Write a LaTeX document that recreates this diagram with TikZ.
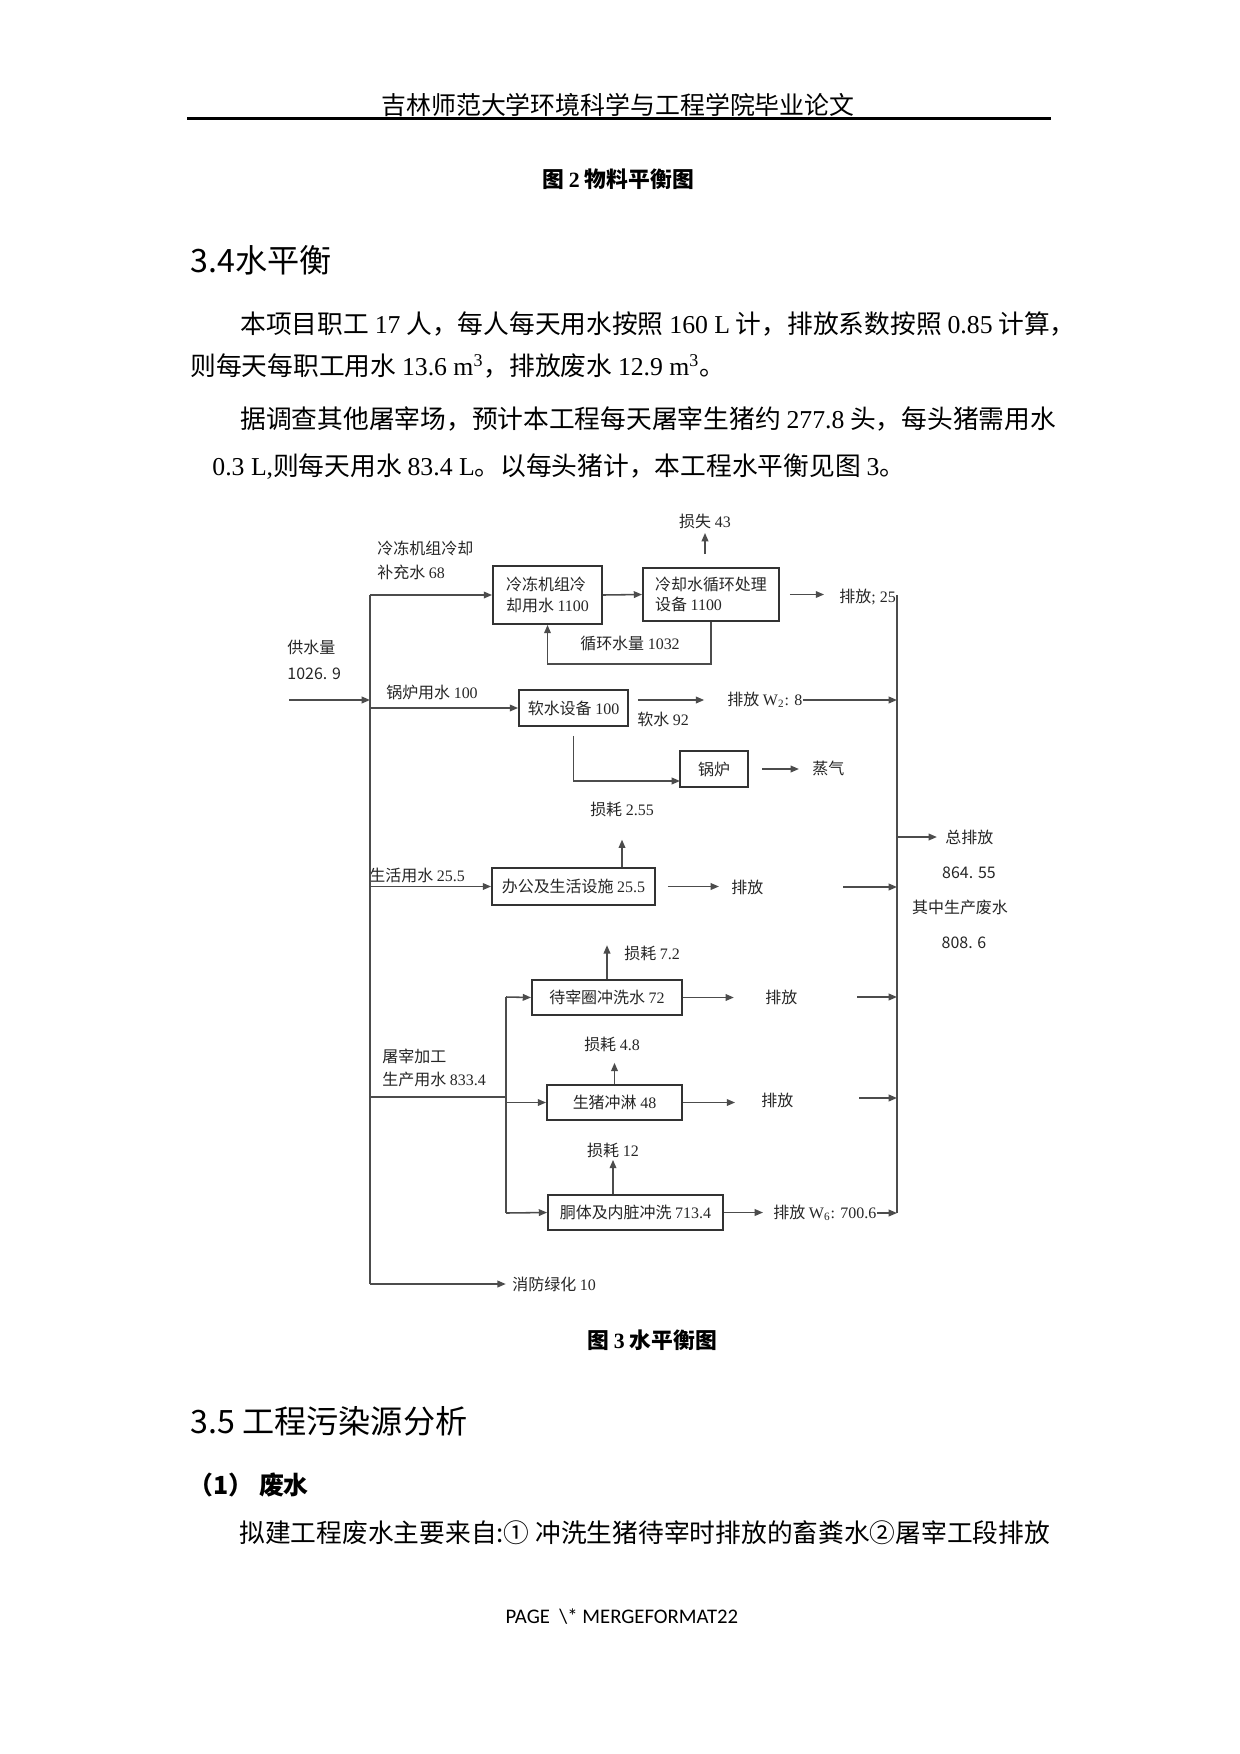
\documentclass[tikz,border=0pt]{standalone}
\usepackage{fontspec}
\setmainfont{Liberation Serif}
\newfontfamily\cjk{Noto Sans CJK SC}
\newfontfamily\pagefont{Carlito}
\usetikzlibrary{arrows.meta}
\newcommand\tm[1]{{\rmfamily #1}}
\newdimen\pxu \pxu=0.4818pt
\tikzset{
  dfont/.style={font=\cjk\fontsize{7.7}{10}\selectfont},
  box/.style={draw=black!80, line width=0.9pt, dfont, text=black!85, inner sep=0pt, align=left},
  lbl/.style={dfont, text=black!85, inner sep=0pt, align=left},
  flow/.style={draw=black!70, line width=0.75pt, -{Triangle[length=4pt,width=3.2pt]}},
  pipe/.style={draw=black!70, line width=0.75pt},
  body/.style={font=\cjk\fontsize{12.4}{14}\selectfont, anchor=west, inner sep=0pt},
  head/.style={font=\cjk\fontsize{15.5}{18}\selectfont, anchor=west, inner sep=0pt},
  capt/.style={font=\cjk\bfseries\fontsize{10.5}{12}\selectfont, inner sep=0pt},
}
\begin{document}
\begin{tikzpicture}[x=0.16935mm, y=-0.16935mm]
    \fill[white] (0,0) rectangle (1240,1754);
    \useasboundingbox (0,0) rectangle (1240,1754);

    \node[font=\cjk\fontsize{12}{14}\selectfont, inner sep=0pt] (hdr) at (618,105) {吉林师范大学环境科学与工程学院毕业论文};
    \draw[line width=1.1pt] (187,118.5) -- (1051,118.5);
    \node[capt] (cap2) at (618,179) {图 \tm{2} 物料平衡图};
    \node[head] (sec34) at (190,260) {3.4水平衡};
    \node[body] (p1) at (240,324) {本项目职工 \tm{17} 人，每人每天用水按照 \tm{160 L} 计，排放系数按照 \tm{0.85} 计算，};
    \node[body] (p2) at (190,366) {则每天每职工用水 \tm{13.6 m\textsuperscript{3}}，排放废水 \tm{12.9 m\textsuperscript{3}}。};
    \node[body] (p3) at (240,419) {据调查其他屠宰场，预计本工程每天屠宰生猪约 \tm{277.8} 头，每头猪需用水};
    \node[body] (p4) at (212,467) {\tm{0.3 L,}则每天用水 \tm{83.4 L}。以每头猪计，本工程水平衡见图 \tm{3}。};

    \node[box, minimum width=109\pxu, minimum height=58\pxu] (cool) at (547.5,595) {冷冻机组冷\\却用水 \tm{1100}};
    \node[box, minimum width=136\pxu, minimum height=53\pxu] (ctw) at (711,594.5) {冷却水循环处理\\设备 \tm{1100}};
    \node[box, minimum width=109\pxu, minimum height=36\pxu] (soft) at (573.5,708) {软水设备 \tm{100}};
    \node[box, minimum width=68\pxu, minimum height=36\pxu] (boiler) at (714,769) {锅炉};
    \node[box, minimum width=163\pxu, minimum height=37\pxu] (office) at (573.5,886.5) {办公及生活设施 \tm{25.5}};
    \node[box, minimum width=150\pxu, minimum height=35\pxu] (pen) at (607,997.5) {待宰圈冲洗水 \tm{72}};
    \node[box, minimum width=135\pxu, minimum height=35\pxu] (shower) at (614.5,1102.5) {生猪冲淋 \tm{48}};
    \node[box, minimum width=175\pxu, minimum height=35\pxu] (carcass) at (635.5,1212.5) {胴体及内脏冲洗 \tm{713.4}};

    \node[lbl] (loss43) at (705,521) {损失 \tm{43}};
    \node[lbl, anchor=west] (coolmk) at (377,560) {冷冻机组冷却\\[1.5pt]补充水 \tm{68}};
    \node[lbl, anchor=west] (out25) at (839,597) {排放\tm{; 25}};
    \node[lbl] (recirc) at (630,643) {循环水量 \tm{1032}};
    \node[lbl, anchor=west] (supply) at (287,660) {供水量\\[2.5pt]1026. 9};
    \node[lbl] (boilw) at (432,692) {锅炉用水 \tm{100}};
    \node[lbl, anchor=west] (w2) at (727,700) {排放 \tm{W\textsubscript{2}: 8}};
    \node[lbl, anchor=west] (soft92) at (637,719) {软水 \tm{92}};
    \node[lbl, anchor=west] (steam) at (812,768) {蒸气};
    \node[lbl] (loss255) at (622,809) {损耗 \tm{2.55}};
    \node[lbl, anchor=west] (livew) at (369,875) {生活用水 \tm{25.5}};
    \node[lbl, anchor=west] (out3) at (731,887) {排放};
    \node[lbl, anchor=west] (total) at (945,837) {总排放};
    \node[lbl] (tot1) at (969,873) {864. 55};
    \node[lbl] (tot2) at (960,907) {其中生产废水};
    \node[lbl] (tot3) at (964,943) {808. 6};
    \node[lbl, anchor=west] (loss72) at (624,953) {损耗 \tm{7.2}};
    \node[lbl, anchor=west] (out4) at (765,997) {排放};
    \node[lbl] (loss48) at (612,1044) {损耗 \tm{4.8}};
    \node[lbl, anchor=west] (prod) at (382,1068) {屠宰加工\\[1pt]生产用水 \tm{833.4}};
    \node[lbl, anchor=west] (out5) at (761,1100) {排放};
    \node[lbl] (loss12) at (613,1150) {损耗 \tm{12}};
    \node[lbl, anchor=west] (w6) at (773,1213) {排放 \tm{W\textsubscript{6}: 700.6}};
    \node[lbl, anchor=west] (fire) at (512,1284) {消防绿化 \tm{10}};

    \coordinate (src) at (289,700);
    \coordinate (ltop) at (370,595);
    \coordinate (lbot) at (370,1284);
    \coordinate (rbt) at (897,595);
    \coordinate (rbot) at (897,1213);
    \coordinate (rc) at (630,664);
    \coordinate (bin) at (680,781);
    \coordinate (r3) at (843,887);
    \coordinate (pj) at (506,1097);
    \coordinate (stop) at (506,997);
    \coordinate (sbot) at (506,1213);
    \coordinate (r4) at (857,997);
    \coordinate (r5) at (859,1098);

    \draw[pipe] (ltop) -- (lbot);
    \draw[pipe] (rbt) -- (rbot);
    \draw[flow] (src) -- (src -| ltop);
    \draw[flow] (ltop) -- (cool.west);
    \draw[flow] (cool.east) -- (ctw.west);
    \draw[flow, shorten <=6.3pt, shorten >=2pt] (loss43.south |- ctw.north) -- (loss43.south);
    \draw[flow, shorten <=4.8pt, shorten >=7.2pt] (ctw.east) -- (ctw.east -| out25.west);
    \draw[flow] (ctw.south) |- (rc) -| (cool.south);

    \draw[flow] (ltop |- soft.west) -- (soft.west);
    \draw[flow, shorten <=4.3pt, shorten >=11pt] (soft.east |- w2.west) -- (w2.west);
    \draw[flow] (w2.east) -- (w2.east -| rbt);
    \draw[flow, shorten <=4.3pt] (soft.south) |- (bin);
    \draw[flow, shorten <=6.3pt, shorten >=6.3pt] (boiler.east) -- (boiler.east -| steam.west);

    \draw[flow, shorten >=11pt] (loss255.south |- office.north) -- (loss255.south);
    \draw[flow] (ltop |- office.west) -- (office.west);
    \draw[flow, shorten <=5.8pt, shorten >=5.8pt] (office.east) -- (office.east -| out3.west);
    \draw[flow] (r3) -- (r3 -| rbt);
    \draw[flow, shorten >=3.9pt] (total.west -| rbt) -- (total.west);

    \draw[pipe] (pj -| ltop) -- (pj);
    \draw[pipe] (stop) -- (sbot);
    \draw[flow] (stop) -- (pen.west);
    \draw[flow] (stop |- shower.west) -- (shower.west);
    \draw[flow] (sbot) -- (carcass.west);
    \draw[flow] (pen.north) -- (pen.north |- loss72.north);
    \draw[flow, shorten >=5.3pt] (shower.north) -- (shower.north |- loss48.south);
    \draw[flow, shorten >=1pt] (loss12.south |- carcass.north) -- (loss12.south);
    \draw[flow, shorten >=15pt] (pen.east) -- (pen.east -| out4.west);
    \draw[flow] (r4) -- (r4 -| rbt);
    \draw[flow, shorten >=12.5pt] (shower.east) -- (shower.east -| out5.west);
    \draw[flow] (r5) -- (r5 -| rbt);
    \draw[flow, shorten >=4.8pt] (carcass.east) -- (carcass.east -| w6.west);
    \draw[flow] (w6.east) -- (w6.east -| rbt);
    \draw[flow, shorten >=3pt] (lbot) -- (fire.west);

    \node[capt] (cap3) at (652,1340) {图 \tm{3} 水平衡图};
    \node[head] (sec35) at (190,1421) {3.5 工程污染源分析};
    \node[body, font=\cjk\bfseries\fontsize{12}{14}\selectfont] (ww) at (188,1485) {（1） 废水};
    \node[body] (p5) at (239,1533) {拟建工程废水主要来自:① 冲洗生猪待宰时排放的畜粪水②屠宰工段排放};
    \node[font=\pagefont\fontsize{10}{12}\selectfont, inner sep=0pt] (pg) at (622,1617) {PAGE\ \ \textbackslash* MERGEFORMAT22};
\end{tikzpicture}
\end{document}
